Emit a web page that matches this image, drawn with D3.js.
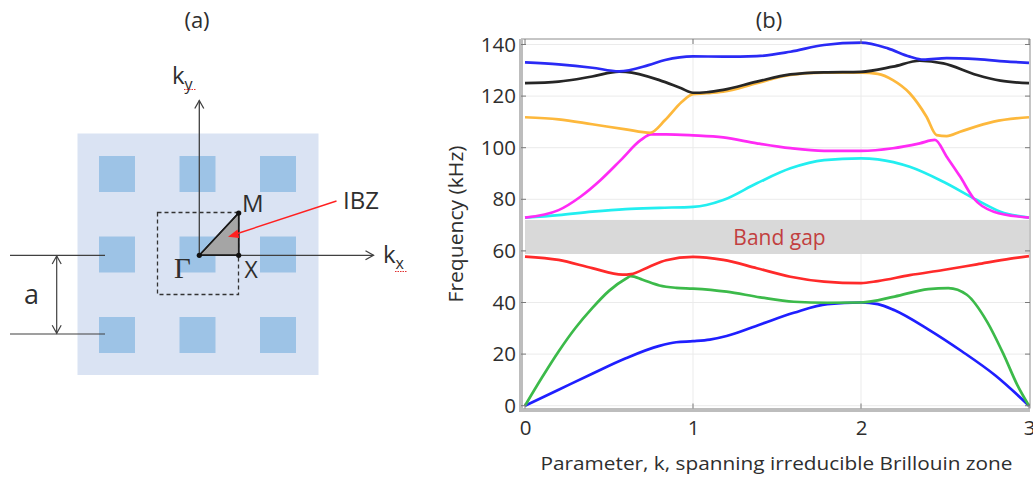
<!DOCTYPE html>
<html>
<head>
<meta charset="utf-8">
<script src="https://cdn.jsdelivr.net/npm/d3@7/dist/d3.min.js"></script>
<style>
  html, body { margin: 0; padding: 0; background: #fff; }
  svg { display: block; font-family: "Open Sans", sans-serif; }
</style>
</head>
<body>
<svg id="fig" width="1033" height="479"></svg>
<script>
// ---- band structure data: [k, frequency kHz] ----
const band1 = [[0,0],[0.2,6.2],[0.4,12.4],[0.6,18.4],[0.8,23.2],[0.9,24.6],[1,25],[1.1,25.6],[1.2,27],[1.4,31.5],[1.6,36],[1.8,39.4],[2,40],[2.1,39.4],[2.2,37],[2.4,29.6],[2.6,21.1],[2.8,11.7],[3,0]];
const band2 = [[0,0],[0.1,10.8],[0.2,21],[0.3,30.1],[0.4,37.8],[0.5,44.5],[0.6,49.2],[0.63,50.2],[0.7,48.8],[0.8,46.6],[0.9,45.7],[1,45.4],[1.2,44.2],[1.4,42],[1.6,40.3],[1.8,39.9],[2,40],[2.2,42.3],[2.4,45.2],[2.52,45.6],[2.63,43],[2.75,32.6],[2.85,19.7],[2.93,8.1],[3,0]];
const band3 = [[0,57.8],[0.2,56.5],[0.4,53.3],[0.58,50.8],[0.63,51],[0.74,53.9],[0.84,56.4],[1,57.7],[1.18,56.5],[1.38,53.3],[1.58,50],[1.78,48.1],[2,47.5],[2.1,48.3],[2.29,50.6],[2.49,52.6],[2.69,54.8],[2.89,57],[3,58]];
const band4 = [[0,72.9],[0.2,73.9],[0.4,75.2],[0.6,76.2],[0.8,76.7],[1,77.1],[1.08,77.8],[1.18,79.7],[1.38,86.2],[1.58,92],[1.78,95.2],[2,95.9],[2.1,95.5],[2.29,92.6],[2.49,86.8],[2.69,79.7],[2.83,75.2],[3,72.9]];
const band5 = [[0,72.9],[0.2,75.8],[0.33,81],[0.45,87.5],[0.57,95.2],[0.69,103],[0.75,105.2],[0.84,105.2],[1,104.8],[1.18,104],[1.38,101.7],[1.58,99.8],[1.78,98.8],[2,98.8],[2.19,99.8],[2.35,101.7],[2.44,103],[2.51,96.5],[2.59,88.8],[2.67,80.4],[2.79,75.2],[3,72.9]];
const band6 = [[0,111.8],[0.2,111],[0.4,109.1],[0.6,107.1],[0.745,105.8],[0.834,110.7],[0.934,117.8],[1,120.8],[1.08,121.1],[1.18,121.7],[1.38,125],[1.58,128.2],[1.78,129.1],[2,129.1],[2.1,128.6],[2.19,126.2],[2.29,121.1],[2.39,112],[2.45,104.9],[2.51,104.5],[2.59,106.2],[2.79,110.1],[3,111.8]];
const band7 = [[0,125],[0.2,125.6],[0.4,127.6],[0.56,129.5],[0.6,129.4],[0.8,126.2],[0.93,123],[1,121.3],[1.08,121.5],[1.18,122.4],[1.38,125.6],[1.58,128.4],[1.78,129.2],[2,129.4],[2.19,131.4],[2.35,133.7],[2.49,132.7],[2.69,128.2],[2.83,126],[3,125]];
const band8 = [[0,133.1],[0.2,132.3],[0.4,131],[0.56,129.6],[0.735,132],[0.834,134],[1,135.4],[1.18,135.3],[1.38,135.5],[1.58,137.2],[1.78,139.8],[2,140.7],[2.16,138.5],[2.29,135.3],[2.37,134.1],[2.51,134.7],[2.69,134.3],[2.89,133.3],[3,132.9]];

const bands = [band1, band2, band3, band4, band5, band6, band7, band8];
const bandColors = ["#1f1fff", "#3cba4a", "#ff2a2a", "#22eef0", "#ff2bf5", "#fdb83c", "#262626", "#2a2af5"];

const gapRange = [58.8, 72];           // band gap limits, kHz
const xTicks = [0, 1, 2, 3];
const yTicks = [0, 20, 40, 60, 80, 100, 120, 140];

const svg = d3.select("#fig");
const textColor = "#2e2e2e";

// ================= panel (b): dispersion curves =================
const x = d3.scaleLinear().domain([0, 3]).range([525, 1029]);
const y = d3.scaleLinear().domain([0, 140]).range([405.7, 44.5]);
const frame = { left: 521, right: 1030, top: 39, bottom: 408.5 };

const pb = svg.append("g");

// grid
pb.append("g").selectAll("line.gy").data(yTicks).join("line")
  .attr("x1", frame.left).attr("x2", frame.right)
  .attr("y1", d => y(d)).attr("y2", d => y(d))
  .attr("stroke", "#ebebeb").attr("stroke-width", 1);
pb.append("g").selectAll("line.gx").data(xTicks.slice(1, 3)).join("line")
  .attr("x1", d => x(d)).attr("x2", d => x(d))
  .attr("y1", frame.top).attr("y2", frame.bottom)
  .attr("stroke", "#ebebeb").attr("stroke-width", 1);

// band gap
pb.append("rect")
  .attr("x", x(0)).attr("width", x(3) - x(0))
  .attr("y", y(gapRange[1])).attr("height", y(gapRange[0]) - y(gapRange[1]))
  .attr("fill", "#d9d9d9");
pb.append("text")
  .attr("x", x(1.515)).attr("y", y((gapRange[0] + gapRange[1]) / 2))
  .attr("dy", "0.36em").attr("text-anchor", "middle")
  .attr("font-size", 21).attr("fill", "#c23f3f")
  .text("Band gap");

// curves
const line = d3.line().x(d => x(d[0])).y(d => y(d[1])).curve(d3.curveMonotoneX);
pb.append("g").selectAll("path").data(bands).join("path")
  .attr("d", line)
  .attr("fill", "none")
  .attr("stroke", (d, i) => bandColors[i])
  .attr("stroke-width", 2.7)
  .attr("stroke-linejoin", "round");

// frame
pb.append("line").attr("x1", frame.left).attr("x2", frame.right)
  .attr("y1", frame.top).attr("y2", frame.top).attr("stroke", "#8c8c8c").attr("stroke-width", 1);
pb.append("line").attr("x1", frame.right).attr("x2", frame.right)
  .attr("y1", frame.top).attr("y2", frame.bottom).attr("stroke", "#8c8c8c").attr("stroke-width", 1);
pb.append("line").attr("x1", frame.left).attr("x2", frame.left)
  .attr("y1", frame.top).attr("y2", frame.bottom + 2).attr("stroke", "#bdbdbd").attr("stroke-width", 4);
pb.append("line").attr("x1", frame.left - 2).attr("x2", frame.right)
  .attr("y1", frame.bottom + 1.5).attr("y2", frame.bottom + 1.5).attr("stroke", "#bdbdbd").attr("stroke-width", 4);

// inner tick marks
const tickLen = 5;
const tk = pb.append("g").attr("stroke", "#7a7a7a").attr("stroke-width", 1);
tk.selectAll("line.tl").data(yTicks).join("line")
  .attr("x1", frame.left).attr("x2", frame.left + tickLen).attr("y1", d => y(d)).attr("y2", d => y(d));
tk.selectAll("line.tr").data(yTicks).join("line")
  .attr("x1", frame.right - tickLen).attr("x2", frame.right).attr("y1", d => y(d)).attr("y2", d => y(d));
tk.selectAll("line.tt").data(xTicks).join("line")
  .attr("x1", d => x(d)).attr("x2", d => x(d)).attr("y1", frame.top).attr("y2", frame.top + tickLen);
tk.selectAll("line.tb").data(xTicks).join("line")
  .attr("x1", d => x(d)).attr("x2", d => x(d)).attr("y1", frame.bottom - tickLen).attr("y2", frame.bottom);

// axis labels via d3 axes (no domain / tick lines)
const yAxis = pb.append("g").attr("transform", `translate(${frame.left - 2},0)`)
  .call(d3.axisLeft(y).tickValues(yTicks).tickSize(0).tickPadding(3));
const xAxis = pb.append("g").attr("transform", `translate(0,${frame.bottom + 4})`)
  .call(d3.axisBottom(x).tickValues(xTicks).tickSize(0).tickPadding(8).tickFormat(d3.format("d")));
[yAxis, xAxis].forEach(a => {
  a.select(".domain").remove();
  a.selectAll("text").attr("font-size", 20.5).attr("fill", textColor)
    .attr("font-family", "'Open Sans', sans-serif");
});

pb.append("text")
  .attr("x", 776.5).attr("y", 470)
  .attr("text-anchor", "middle").attr("font-size", 19).attr("fill", textColor)
  .attr("textLength", 472).attr("lengthAdjust", "spacingAndGlyphs")
  .text("Parameter, k, spanning irreducible Brillouin zone");
pb.append("text")
  .attr("transform", "translate(463,224) rotate(-90)")
  .attr("text-anchor", "middle").attr("font-size", 19.5).attr("fill", textColor)
  .attr("textLength", 157).attr("lengthAdjust", "spacingAndGlyphs")
  .text("Frequency (kHz)");
pb.append("text")
  .attr("x", 769).attr("y", 28)
  .attr("text-anchor", "middle").attr("font-size", 22).attr("fill", textColor)
  .text("(b)");

// ================= panel (a): lattice and IBZ =================
const pa = svg.append("g");
const latticeCols = [0, 1, 2];
const latticeRows = [0, 1, 2];
const cell = 80.5, inc = 36, origin = { x: 117, y: 174 };

pa.append("text").attr("x", 197).attr("y", 28).attr("text-anchor", "middle")
  .attr("font-size", 22).attr("fill", textColor).text("(a)");

pa.append("rect").attr("x", 77.5).attr("y", 133.5).attr("width", 241).attr("height", 241.5)
  .attr("fill", "#dae3f3");
const cells = latticeRows.flatMap(r => latticeCols.map(c => ({ r, c })));
pa.selectAll("rect.inc").data(cells).join("rect")
  .attr("x", d => origin.x + d.c * cell - inc / 2)
  .attr("y", d => origin.y + d.r * cell - inc / 2)
  .attr("width", inc).attr("height", inc)
  .attr("fill", "#9dc3e6");

const G = { x: 199.3, y: 255.3 }, X = { x: 238.7, y: 255.3 }, M = { x: 238.7, y: 213 };
const axisCol = "#404040";

// dashed first Brillouin zone
pa.append("rect").attr("x", 157.5).attr("y", 212.5).attr("width", 81).attr("height", 82)
  .attr("fill", "none").attr("stroke", "#333").attr("stroke-width", 1.3)
  .attr("stroke-dasharray", "4,3");

// IBZ triangle
pa.append("path")
  .attr("d", `M${G.x},${G.y}L${X.x},${X.y}L${M.x},${M.y}Z`)
  .attr("fill", "#a5a5a5").attr("stroke", "#1a1a1a").attr("stroke-width", 1.5);

// k axes with open arrowheads
const chevron = (tx, ty, ang) => {
  const a = ang * Math.PI / 180, L = 8, w = 4.5;
  const bx = tx - L * Math.cos(a), by = ty - L * Math.sin(a);
  const px = -Math.sin(a) * w, py = Math.cos(a) * w;
  return `M${bx + px},${by + py}L${tx},${ty}L${bx - px},${by - py}`;
};
pa.append("line").attr("x1", G.x).attr("y1", G.y).attr("x2", G.x).attr("y2", 100.5)
  .attr("stroke", axisCol).attr("stroke-width", 1.3);
pa.append("path").attr("d", chevron(G.x, 100.5, -90)).attr("fill", "none").attr("stroke", axisCol).attr("stroke-width", 1.3);
pa.append("line").attr("x1", G.x).attr("y1", G.y).attr("x2", 373.5).attr("y2", G.y)
  .attr("stroke", axisCol).attr("stroke-width", 1.3);
pa.append("path").attr("d", chevron(373.5, G.y, 0)).attr("fill", "none").attr("stroke", axisCol).attr("stroke-width", 1.3);

// redraw triangle edges on top of axes
pa.append("path")
  .attr("d", `M${G.x},${G.y}L${X.x},${X.y}L${M.x},${M.y}Z`)
  .attr("fill", "none").attr("stroke", "#1a1a1a").attr("stroke-width", 1.5);
pa.selectAll("circle.v").data([G, X, M]).join("circle")
  .attr("cx", d => d.x).attr("cy", d => d.y).attr("r", 2.6).attr("fill", "#111");

// IBZ pointer
pa.append("line").attr("x1", 336.5).attr("y1", 201).attr("x2", 236).attr("y2", 234)
  .attr("stroke", "#ff2020").attr("stroke-width", 1.4);
pa.append("path").attr("d", "M228,236.7L237.5,229.6L239.2,237.9Z").attr("fill", "#ff2020");

// labels
const lab = (t, px, py, fs, fam) => pa.append("text").attr("x", px).attr("y", py)
  .attr("font-size", fs).attr("fill", textColor).attr("font-family", fam || null).text(t);
lab("M", 242, 212, 24);
lab("X", 244.5, 278, 23);
lab("Γ", 174, 278, 29, "'Liberation Serif', 'DejaVu Serif', serif");
lab("IBZ", 343, 208.5, 24);

const ky = pa.append("text").attr("x", 172).attr("y", 84).attr("font-size", 24).attr("fill", textColor);
ky.append("tspan").text("k");
ky.append("tspan").attr("font-size", 16).attr("dy", 6).text("y");
const kx = pa.append("text").attr("x", 383).attr("y", 263).attr("font-size", 24).attr("fill", textColor);
kx.append("tspan").text("k");
kx.append("tspan").attr("font-size", 16).attr("dy", 6).text("x");
// red squiggles under the subscripts
[[184, 196, 89.5], [395, 407, 271.5]].forEach(([a, b, yy]) => {
  pa.append("line").attr("x1", a).attr("x2", b).attr("y1", yy).attr("y2", yy)
    .attr("stroke", "#e03030").attr("stroke-width", 1).attr("stroke-dasharray", "1.5,1");
});

// lattice constant dimension
pa.append("line").attr("x1", 10).attr("x2", 105).attr("y1", 255.3).attr("y2", 255.3)
  .attr("stroke", axisCol).attr("stroke-width", 1.2);
pa.append("line").attr("x1", 10).attr("x2", 105).attr("y1", 334).attr("y2", 334)
  .attr("stroke", axisCol).attr("stroke-width", 1.2);
pa.append("line").attr("x1", 56.7).attr("x2", 56.7).attr("y1", 255.8).attr("y2", 333.5)
  .attr("stroke", axisCol).attr("stroke-width", 1.2);
pa.append("path").attr("d", chevron(56.7, 256, -90)).attr("fill", "none").attr("stroke", axisCol).attr("stroke-width", 1.2);
pa.append("path").attr("d", chevron(56.7, 333.3, 90)).attr("fill", "none").attr("stroke", axisCol).attr("stroke-width", 1.2);
lab("a", 24, 304, 27);
</script>
</body>
</html>
